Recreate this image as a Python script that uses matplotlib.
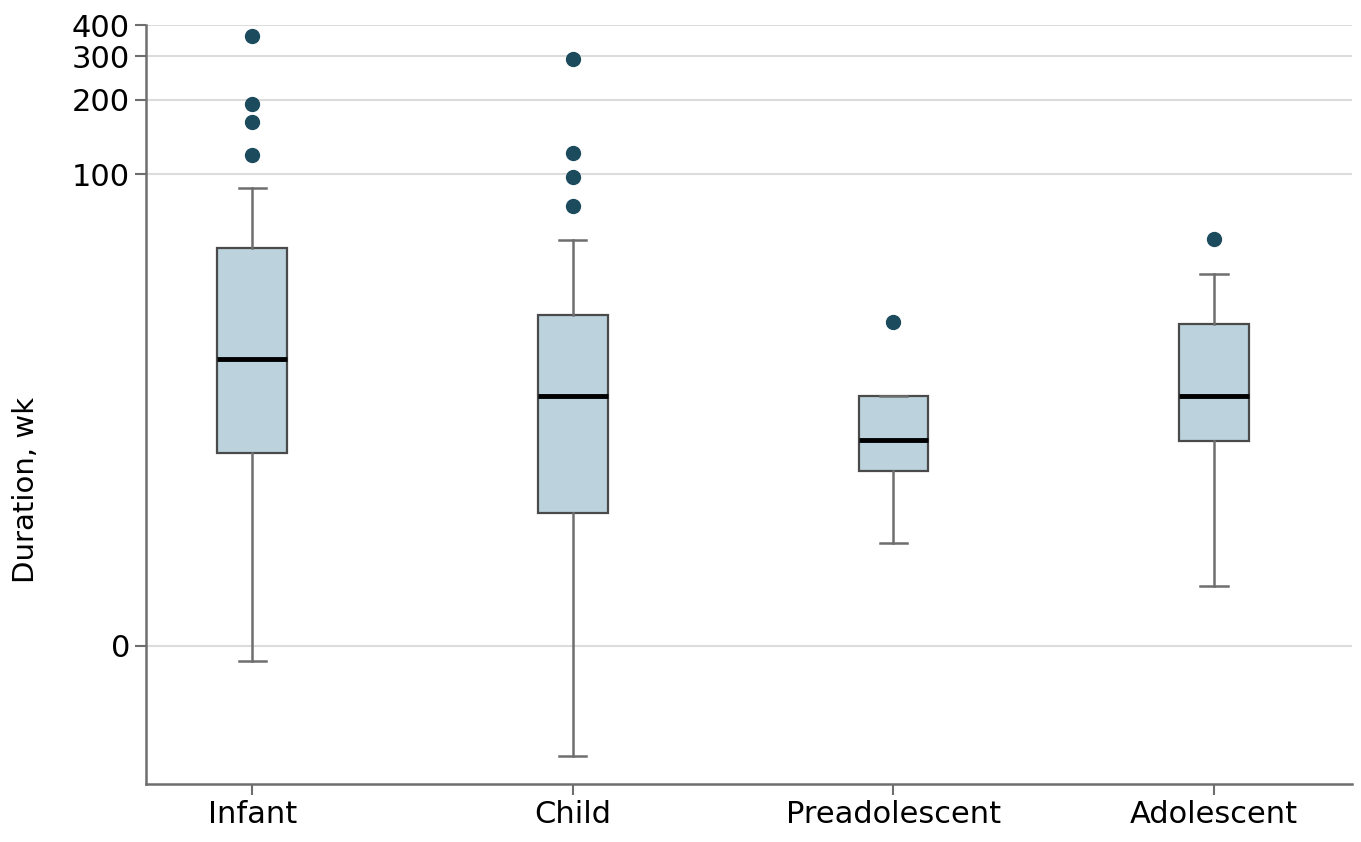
import matplotlib
matplotlib.use("Agg")
import matplotlib.pyplot as plt
import numpy as np

# Durations in weeks (axis is log10(x + 1.3))
categories = ["Infant", "Child", "Preadolescent", "Adolescent"]
whisker_low = [-0.17, -0.83, 2.07, 0.96]
q1 = [6.4, 3.14, 5.25, 7.3]
median = [17.0, 11.7, 7.4, 11.7]
q3 = [49.7, 26.4, 11.7, 24.0]
whisker_high = [87.4, 53.6, 11.7, 38.8]
outliers = [
    [360, 193, 163, 119],
    [290.7, 122.3, 96.9, 74.5],
    [24.6],
    [54.1],
]
y_ticks = [0, 100, 200, 300, 400]

C = 1.3


def fwd(v):
    return np.log10(np.asarray(v) + C)


def inv(v):
    return 10 ** np.asarray(v) - C


plt.rcParams['font.family'] = ['DejaVu Sans']

fig = plt.figure(figsize=(13.61, 8.42), dpi=100)
ax = fig.add_axes([146 / 1361, 1 - 784 / 842, (1352 - 146) / 1361, (784 - 25) / 842])
ax.set_yscale('function', functions=(fwd, inv))

stats = []
for i, name in enumerate(categories):
    stats.append(dict(label=name, whislo=whisker_low[i], q1=q1[i], med=median[i],
                      q3=q3[i], whishi=whisker_high[i], fliers=outliers[i]))

ax.bxp(stats, positions=[1, 2, 3, 4], widths=0.218, patch_artist=True,
       capwidths=0.085,
       boxprops=dict(facecolor='#bcd3dd', edgecolor='#4a4a4a', linewidth=1.6),
       medianprops=dict(color='black', linewidth=3.5),
       whiskerprops=dict(color='#6e6e6e', linewidth=1.8),
       capprops=dict(color='#6e6e6e', linewidth=1.8),
       flierprops=dict(marker='o', markersize=10, markerfacecolor='#1c4b5e',
                       markeredgecolor='#1c4b5e'),
       zorder=3)

ax.set_xlim(0.669, 4.43)
ax.set_ylim(-0.937, 400)
ax.set_yticks(y_ticks)
ax.set_yticklabels([str(t) for t in y_ticks])
ax.yaxis.grid(True, color='#dcdcdc', linewidth=1.5)
ax.set_axisbelow(True)

for s in ['top', 'right']:
    ax.spines[s].set_visible(False)
for s in ['left', 'bottom']:
    ax.spines[s].set_color('#6e6e6e')
    ax.spines[s].set_linewidth(1.8)

ax.tick_params(axis='both', colors='#6e6e6e', width=1.5, length=8, labelsize=22,
               labelcolor='black')
ax.set_ylabel('Duration, wk', fontsize=21)
ax.yaxis.set_label_coords(-0.088, 0.387)

fig.savefig('out.png', dpi=100)
